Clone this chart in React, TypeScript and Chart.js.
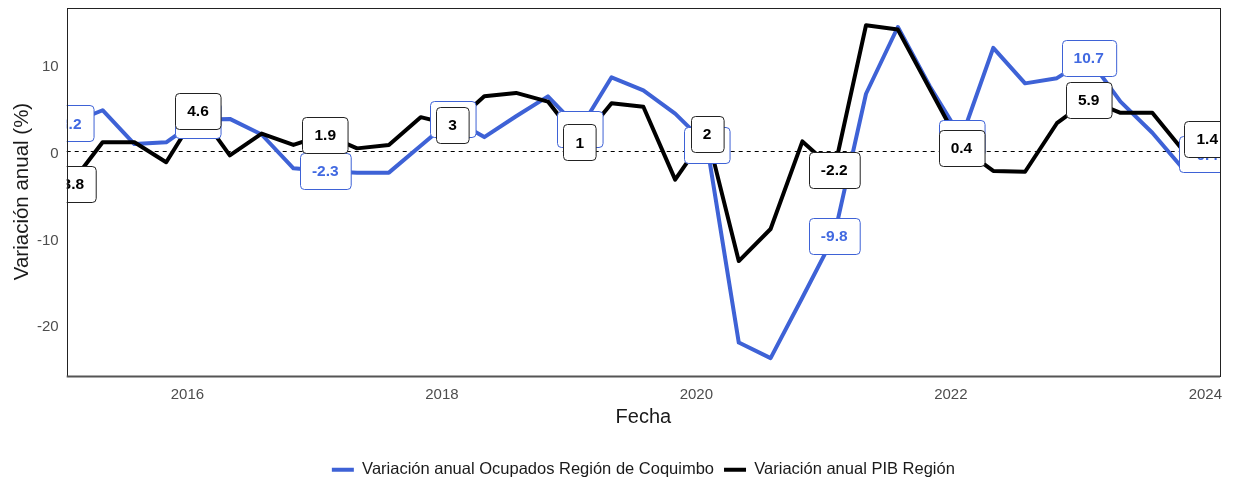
import React, { useEffect, useRef } from "react";
import { Chart, registerables } from "chart.js";

Chart.register(...registerables);

// ---- Data ----
const trimestres = [
  "2015-T1", "2015-T2", "2015-T3", "2015-T4",
  "2016-T1", "2016-T2", "2016-T3", "2016-T4",
  "2017-T1", "2017-T2", "2017-T3", "2017-T4",
  "2018-T1", "2018-T2", "2018-T3", "2018-T4",
  "2019-T1", "2019-T2", "2019-T3", "2019-T4",
  "2020-T1", "2020-T2", "2020-T3", "2020-T4",
  "2021-T1", "2021-T2", "2021-T3", "2021-T4",
  "2022-T1", "2022-T2", "2022-T3", "2022-T4",
  "2023-T1", "2023-T2", "2023-T3", "2023-T4",
  "2024-T1",
];

const ocupados = [
  3.2, 4.7, 0.8, 1.0, 3.6, 3.7, 1.9, -2.0, -2.3, -2.5, -2.5, 0.6, 3.7,
  1.6, 4.0, 6.3, 2.5, 8.5, 7.0, 4.3, 0.7, -22.1, -23.9, -16.9, -9.8, 6.6,
  14.3, 7.5, 1.5, 11.9, 7.8, 8.4, 10.7, 5.7, 2.1, -2.2, -0.4,
];

const pib = [
  -3.8, 1.0, 1.0, -1.3, 4.6, -0.5, 2.0, 0.7, 1.9, 0.3, 0.7, 3.9, 3.0,
  6.3, 6.7, 5.7, 1.0, 5.5, 5.1, -3.3, 2.0, -12.7, -9.0, 1.1, -2.2, 14.5,
  14.0, 7.2, 0.4, -2.3, -2.4, 3.2, 5.9, 4.4, 4.4, -0.1, 1.4,
];

const indicesEtiqueta = [0, 4, 8, 12, 16, 20, 24, 28, 32, 36];
const ticksX = [2016, 2018, 2020, 2022, 2024];
const ticksY = [-20, -10, 0, 10];

const nombreOcupados = "Variación anual Ocupados Región de Coquimbo";
const nombrePib = "Variación anual PIB Región";

// ---- Styles ----
const FONT = "'Liberation Sans', Arial, Helvetica, sans-serif";
const AZUL = "#3E62D6";
const AZUL_TEXTO = "#4169E1";
const NEGRO = "#000000";
const EXPANSION_X = 0.032;

// central month of each quarter (Feb, May, Aug, Nov)
function aDecimal(t: string): number {
  const [a, q] = t.split("-T");
  return Number(a) + ((Number(q) - 1) * 3 + 1) / 12;
}

const estilosEtiqueta = [
  { borde: AZUL, texto: AZUL_TEXTO },
  { borde: "#222222", texto: "#000000" },
];

const etiquetasPlugin = {
  id: "etiquetas",
  beforeDatasetsDraw(chart: any) {
    const { ctx, chartArea, scales } = chart;
    const y0 = Math.round(scales.y.getPixelForValue(0)) + 0.5;
    ctx.save();
    ctx.beginPath();
    ctx.setLineDash([4, 4]);
    ctx.strokeStyle = "#000";
    ctx.lineWidth = 1;
    ctx.moveTo(chartArea.left, y0);
    ctx.lineTo(chartArea.right, y0);
    ctx.stroke();
    ctx.restore();
  },
  afterDatasetsDraw(chart: any) {
    const { ctx, chartArea } = chart;
    ctx.save();
    ctx.beginPath();
    ctx.rect(
      chartArea.left,
      chartArea.top,
      chartArea.right - chartArea.left,
      chartArea.bottom - chartArea.top
    );
    ctx.clip();
    [0, 1].forEach((di) => {
      const meta = chart.getDatasetMeta(di);
      const ds = chart.data.datasets[di];
      const st = estilosEtiqueta[di];
      indicesEtiqueta.forEach((i) => {
        const el = meta.data[i];
        if (!el) return;
        const v = ds.data[i].y;
        const text = String(v);
        ctx.font = `bold 15.5px ${FONT}`;
        const tw = ctx.measureText(text).width;
        const w = tw + 24;
        const h = 36;
        // keep the text itself inside the panel on the right side
        const cx = Math.min(el.x, chartArea.right - tw / 2 - 2);
        const x = Math.round(cx - w / 2) + 0.5;
        const y = Math.round(el.y - h / 2) + 0.5;
        ctx.beginPath();
        if ((ctx as any).roundRect) {
          (ctx as any).roundRect(x, y, w, h, 4);
        } else {
          ctx.rect(x, y, w, h);
        }
        ctx.fillStyle = "#ffffff";
        ctx.fill();
        ctx.lineWidth = 1;
        ctx.strokeStyle = st.borde;
        ctx.stroke();
        ctx.fillStyle = st.texto;
        ctx.textAlign = "center";
        ctx.textBaseline = "middle";
        ctx.fillText(text, cx, el.y + 1);
      });
    });
    ctx.restore();

    // panel border
    ctx.save();
    ctx.strokeStyle = "#222";
    ctx.lineWidth = 1;
    ctx.strokeRect(
      Math.round(chartArea.left) + 0.5,
      Math.round(chartArea.top) + 0.5,
      Math.round(chartArea.right - chartArea.left),
      Math.round(chartArea.bottom - chartArea.top)
    );
    ctx.beginPath();
    ctx.strokeStyle = "#555";
    ctx.lineWidth = 2;
    ctx.moveTo(chartArea.left, Math.round(chartArea.bottom) + 0.5);
    ctx.lineTo(chartArea.right, Math.round(chartArea.bottom) + 0.5);
    ctx.stroke();
    ctx.restore();
  },
};

export default function App() {
  const ref = useRef<HTMLCanvasElement>(null);

  useEffect(() => {
    if (!ref.current) return;
    const xs = trimestres.map(aDecimal);
    const chart = new Chart(ref.current, {
      type: "line",
      data: {
        datasets: [
          {
            label: nombreOcupados,
            data: ocupados.map((v, i) => ({ x: xs[i], y: v })),
            borderColor: AZUL,
            backgroundColor: AZUL,
            borderWidth: 4,
            pointRadius: 0,
            tension: 0,
            borderJoinStyle: "round",
            order: 1,
          },
          {
            label: nombrePib,
            data: pib.map((v, i) => ({ x: xs[i], y: v })),
            borderColor: NEGRO,
            backgroundColor: NEGRO,
            borderWidth: 4,
            pointRadius: 0,
            tension: 0,
            borderJoinStyle: "round",
            order: 0,
          },
        ],
      },
      options: {
        animation: false,
        responsive: false,
        devicePixelRatio: 1,
        layout: { padding: { top: 7.5, right: 13, left: 0, bottom: 0 } },
        plugins: {
          legend: {
            position: "bottom",
            fullSize: false,
            labels: {
              boxWidth: 22,
              boxHeight: 4,
              padding: 10,
              color: "#1a1a1a",
              font: { family: FONT, size: 16.5 },
              sort: (a: any, b: any) => a.datasetIndex - b.datasetIndex,
              generateLabels: (c: any) =>
                Chart.defaults.plugins.legend.labels
                  .generateLabels(c)
                  .map((it: any) => ({ ...it, lineWidth: 0, strokeStyle: "rgba(0,0,0,0)" })),
            },
          },
          tooltip: { enabled: false },
        },
        scales: {
          x: {
            type: "linear",
            min: xs[0] - EXPANSION_X,
            max: xs[xs.length - 1] + EXPANSION_X,
            grid: { display: false, drawTicks: false },
            border: { display: false },
            ticks: {
              padding: 10,
              color: "#4d4d4d",
              font: { family: FONT, size: 15 },
              maxRotation: 0,
              autoSkip: false,
              callback: (v: any) => String(v),
            },
            afterBuildTicks: (s: any) => {
              s.ticks = ticksX.map((value) => ({ value }));
            },
            afterFit: (s: any) => {
              s.height = 76;
              s.paddingLeft = 0;
              s.paddingRight = 0;
            },
            title: {
              display: true,
              text: "Fecha",
              color: "#1a1a1a",
              font: { family: FONT, size: 20 },
              padding: { top: 0, bottom: 22 },
            },
          },
          y: {
            type: "linear",
            min: -25.9,
            max: 16.55,
            grid: { display: false, drawTicks: false },
            border: { display: false },
            ticks: {
              padding: 8,
              labelOffset: 3,
              color: "#4d4d4d",
              font: { family: FONT, size: 15 },
              callback: (v: any) => String(v),
            },
            afterBuildTicks: (s: any) => {
              s.ticks = ticksY.map((value) => ({ value }));
            },
            afterFit: (s: any) => {
              s.width = 66.7;
              s.paddingTop = 0;
              s.paddingBottom = 0;
            },
            title: {
              display: true,
              text: "Variación anual (%)",
              color: "#1a1a1a",
              font: { family: FONT, size: 20.5 },
              padding: { top: 10, bottom: 0 },
            },
          },
        },
      },
      plugins: [etiquetasPlugin],
    } as any);
    return () => chart.destroy();
  }, []);

  return (
    <div
      style={{
        position: "absolute",
        left: 0,
        top: 0,
        width: 1233,
        height: 480,
        overflow: "hidden",
        background: "#ffffff",
      }}
    >
      <canvas
        ref={ref}
        width={1233}
        height={488}
        style={{ display: "block", width: 1233, height: 488 }}
      />
    </div>
  );
}
